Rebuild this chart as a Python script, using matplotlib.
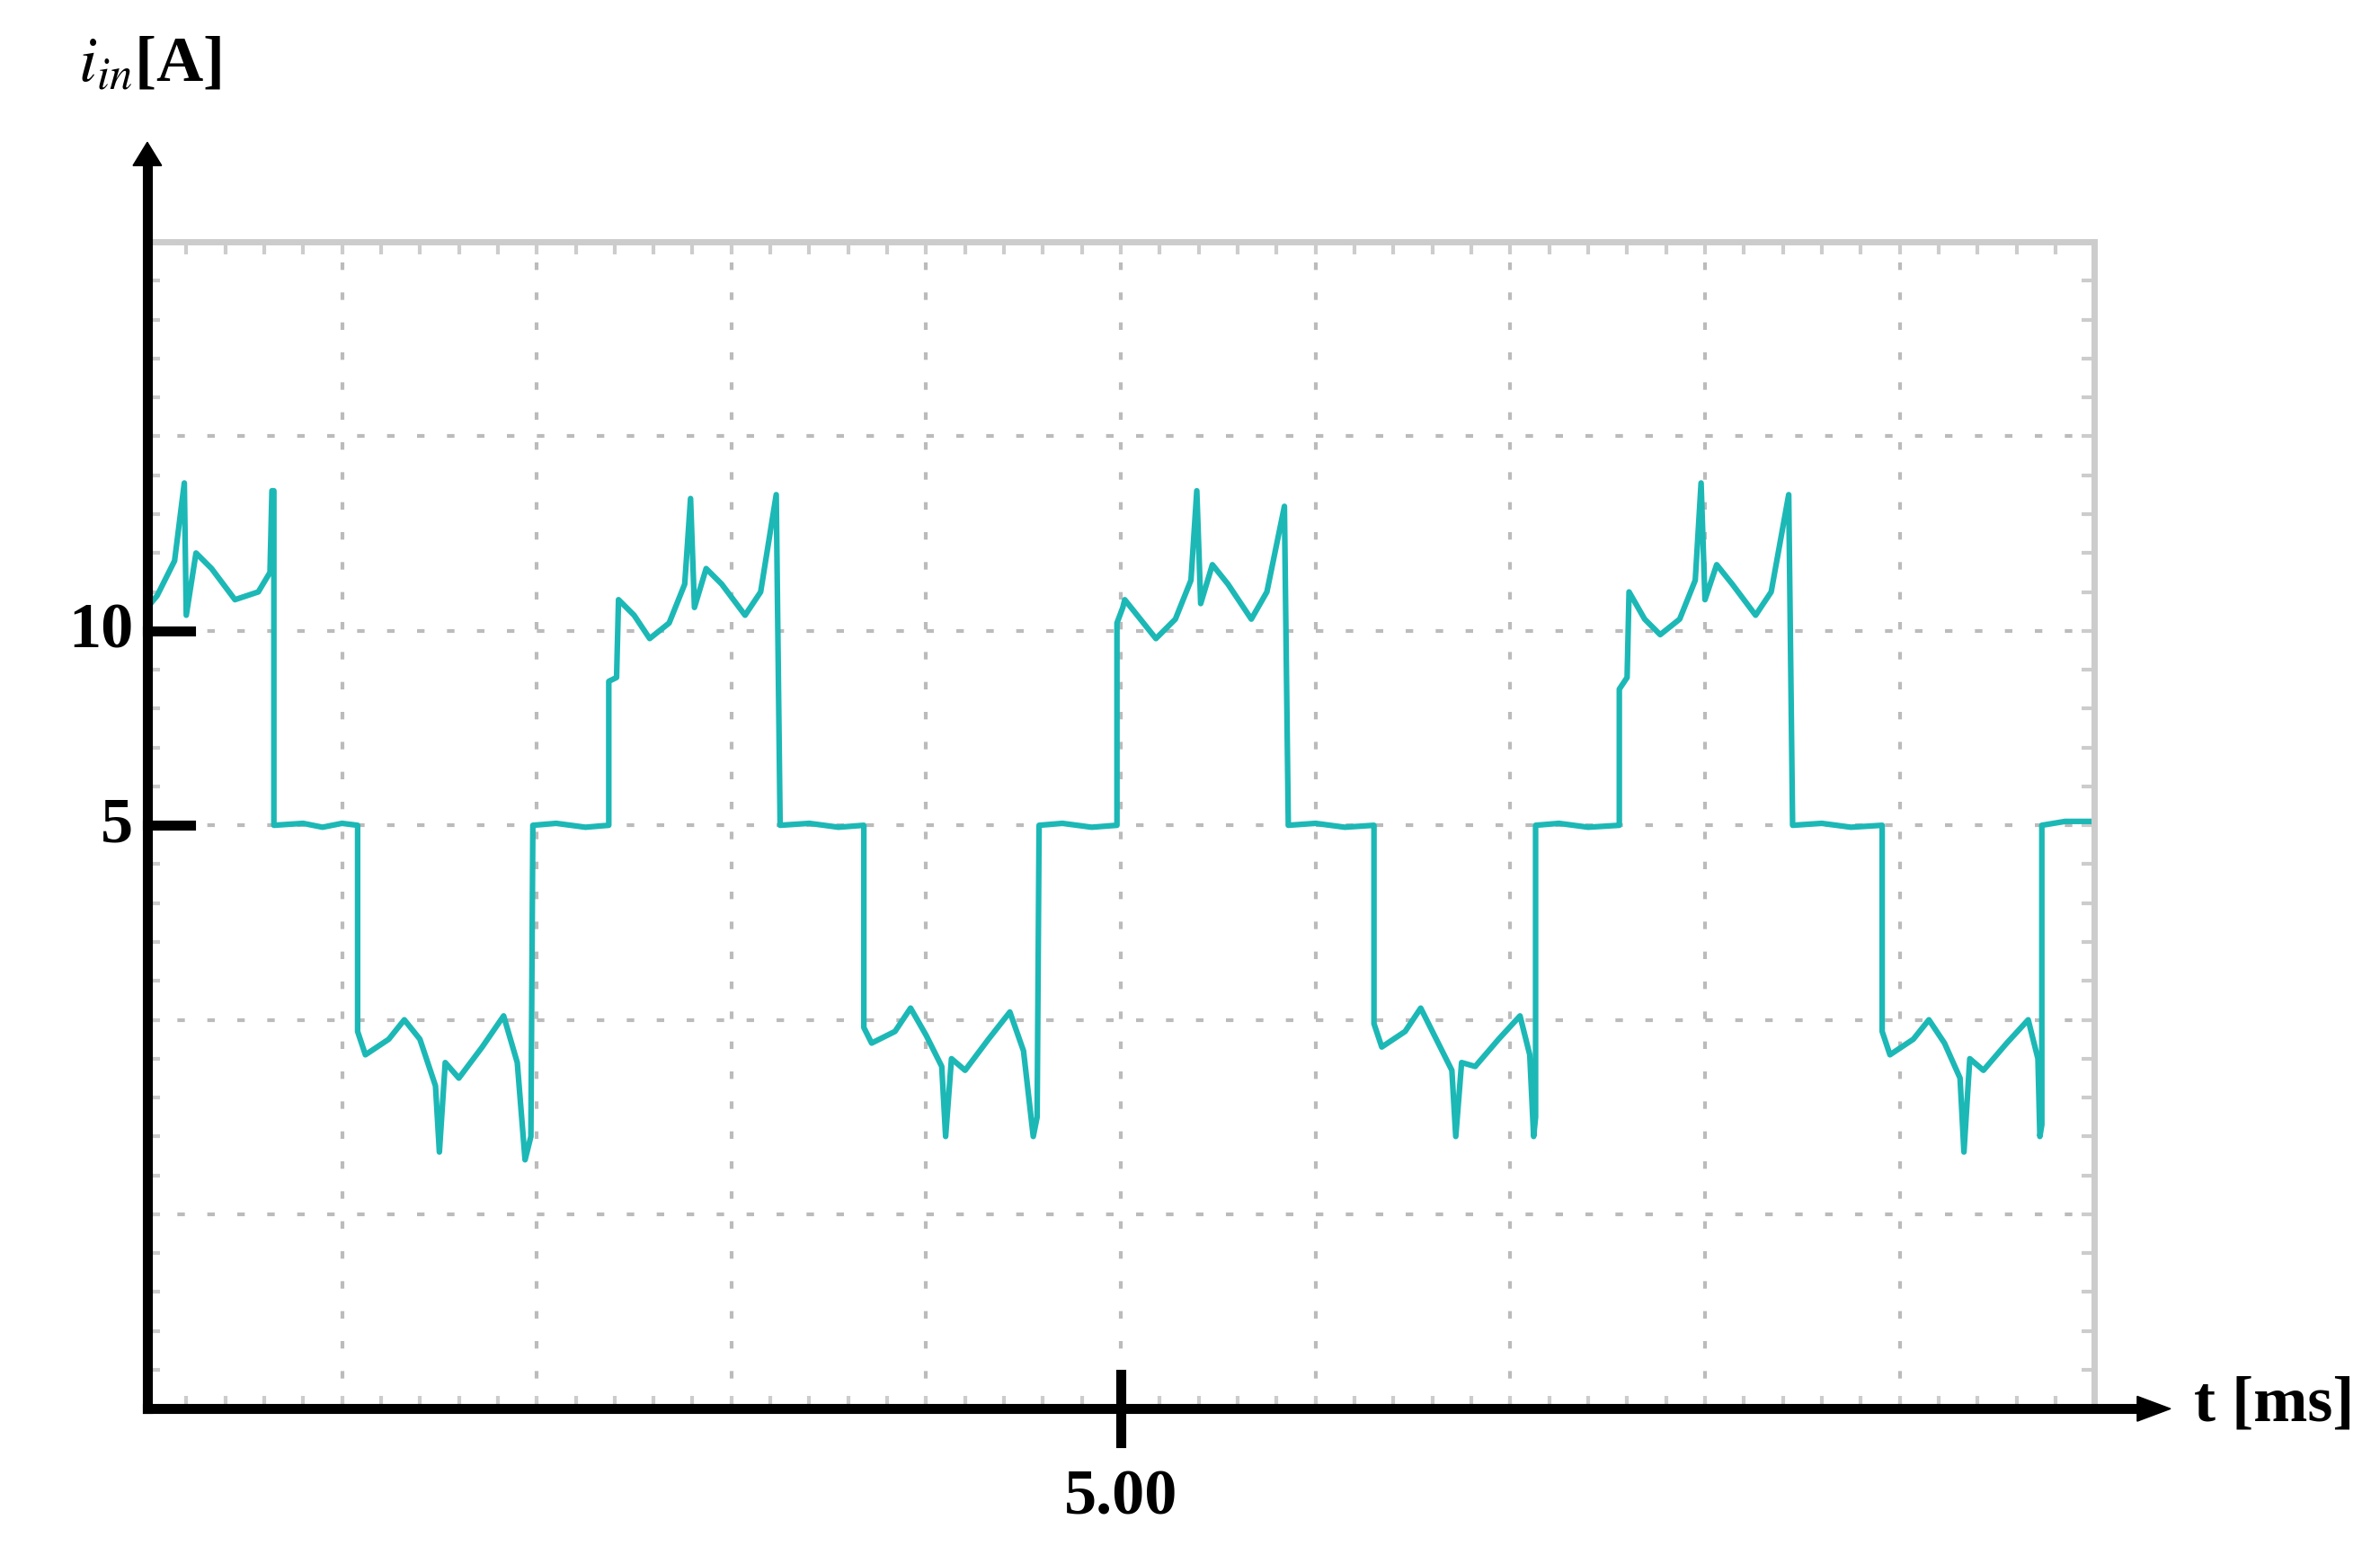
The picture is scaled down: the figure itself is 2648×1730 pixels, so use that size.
import matplotlib
matplotlib.use("Agg")
import matplotlib.pyplot as plt
plt.rcParams["mathtext.fontset"] = "stix"

t_ms = [0, 0.05, 0.14, 0.19, 0.20, 0.25, 0.33, 0.45, 0.57, 0.63, 0.64, 0.65,
        0.65, 0.8, 0.9, 1.0, 1.08,
        1.08, 1.12, 1.24, 1.32, 1.40, 1.48, 1.50, 1.53, 1.60, 1.72, 1.83, 1.90, 1.94, 1.97,
        1.98, 2.1, 2.25, 2.37,
        2.37, 2.41, 2.42, 2.50, 2.58, 2.68, 2.76, 2.79, 2.81, 2.87, 2.95, 3.07, 3.15, 3.23,
        3.25, 3.4, 3.55, 3.68,
        3.68, 3.72, 3.84, 3.92, 4.00, 4.08, 4.10, 4.13, 4.20, 4.32, 4.43, 4.50, 4.55, 4.57,
        4.58, 4.7, 4.85, 4.98,
        4.98, 5.01, 5.02, 5.10, 5.18, 5.28, 5.36, 5.39, 5.41, 5.47, 5.55, 5.67, 5.75, 5.84,
        5.86, 6.0, 6.15, 6.30,
        6.30, 6.34, 6.46, 6.54, 6.62, 6.70, 6.72, 6.75, 6.82, 6.94, 7.05, 7.10, 7.12, 7.13,
        7.13, 7.25, 7.40, 7.56,
        7.56, 7.60, 7.61, 7.69, 7.77, 7.87, 7.95, 7.98, 8.00, 8.06, 8.14, 8.26, 8.34, 8.43,
        8.45, 8.6, 8.75, 8.91,
        8.91, 8.95, 9.07, 9.15, 9.23, 9.31, 9.33, 9.36, 9.43, 9.55, 9.66, 9.71, 9.72, 9.73,
        9.73, 9.85, 10.0]
i_in = [10.6, 10.9, 11.8, 13.8, 10.4, 12.0, 11.6, 10.8, 11.0, 11.5, 13.6, 13.6,
        5.0, 5.05, 4.95, 5.05, 5.0,
        -0.3, -0.9, -0.5, 0.0, -0.5, -1.7, -3.4, -1.1, -1.5, -0.7, 0.1, -1.1, -3.6, -3.0,
        5.0, 5.05, 4.95, 5.0,
        8.7, 8.8, 10.8, 10.4, 9.8, 10.2, 11.2, 13.4, 10.6, 11.6, 11.2, 10.4, 11.0, 13.5,
        5.0, 5.05, 4.95, 5.0,
        -0.2, -0.6, -0.3, 0.3, -0.4, -1.2, -3.0, -1.0, -1.3, -0.5, 0.2, -0.8, -3.0, -2.5,
        5.0, 5.05, 4.95, 5.0,
        10.2, 10.6, 10.8, 10.3, 9.8, 10.3, 11.3, 13.6, 10.7, 11.7, 11.2, 10.3, 11.0, 13.2,
        5.0, 5.05, 4.95, 5.0,
        -0.1, -0.7, -0.3, 0.3, -0.5, -1.3, -3.0, -1.1, -1.2, -0.5, 0.1, -0.9, -3.0, -2.5,
        5.0, 5.05, 4.95, 5.0,
        8.5, 8.8, 11.0, 10.3, 9.9, 10.3, 11.3, 13.8, 10.8, 11.7, 11.2, 10.4, 11.0, 13.5,
        5.0, 5.05, 4.95, 5.0,
        -0.3, -0.9, -0.5, 0.0, -0.6, -1.5, -3.4, -1.0, -1.3, -0.6, 0.0, -1.0, -3.0, -2.7,
        5.0, 5.1, 5.1]

fig = plt.figure(figsize=(26.48, 17.31), dpi=100)
L, R, B, T = 0.0619, 0.880, 0.094, 0.844
ax = fig.add_axes([L, B, R - L, T - B])
ax.set_xlim(0, 10)
ax.set_ylim(-10, 20)
ax.set_xticks(range(11))
ax.set_yticks(range(-10, 21, 5))
ax.set_xticks([k / 5 for k in range(51)], minor=True)
ax.set_yticks([k for k in range(-10, 21)], minor=True)
ax.grid(True, color="#bbbbbb", linestyle=(0, (2, 6)), linewidth=3)
ax.tick_params(which="both", direction="in", length=10, width=3, color="#cccccc",
               top=True, right=True, labelleft=False, labelbottom=False)
for s in ("top", "right"):
    ax.spines[s].set_color("#cccccc")
    ax.spines[s].set_linewidth(5)
for s in ("left", "bottom"):
    ax.spines[s].set_visible(False)
ax.plot(t_ms, i_in, color="#1cb8b6", linewidth=4.5)

# axes arrows
fig.add_artist(plt.Line2D([L, L], [B, 0.895], color="black", lw=8))
fig.add_artist(plt.Line2D([L, 0.90], [B, B], color="black", lw=8))
fig.patches.append(plt.Polygon([[L - 0.006, 0.893], [L + 0.006, 0.893], [L, 0.908]],
                               closed=True, color="black", transform=fig.transFigure))
fig.patches.append(plt.Polygon([[0.898, B + 0.008], [0.898, B - 0.008], [0.912, B]],
                               closed=True, color="black", transform=fig.transFigure))
for yv, lab in [(10, "10"), (5, "5")]:
    yf = B + (yv + 10) / 30 * (T - B)
    fig.add_artist(plt.Line2D([L, L + 0.018], [yf, yf], color="black", lw=8))
    fig.text(L - 0.006, yf, lab, ha="right", va="center", fontsize=52,
             fontweight="bold", family="Liberation Serif")
xf = L + 0.5 * (R - L)
fig.add_artist(plt.Line2D([xf, xf], [B - 0.022, B + 0.022], color="black", lw=8))
fig.text(xf, B - 0.038, "5.00", ha="center", va="top", fontsize=52,
         fontweight="bold", family="Liberation Serif")
fig.text(0.922, B + 0.003, "t [ms]", ha="left", va="center", fontsize=52,
         fontweight="bold", family="Liberation Serif")
fig.text(0.033, 0.958, r"$\boldsymbol{i_{in}}$[A]", ha="left", va="center", fontsize=52,
         fontweight="bold", family="Liberation Serif")
fig.savefig("out.png", dpi=100, facecolor="white")
